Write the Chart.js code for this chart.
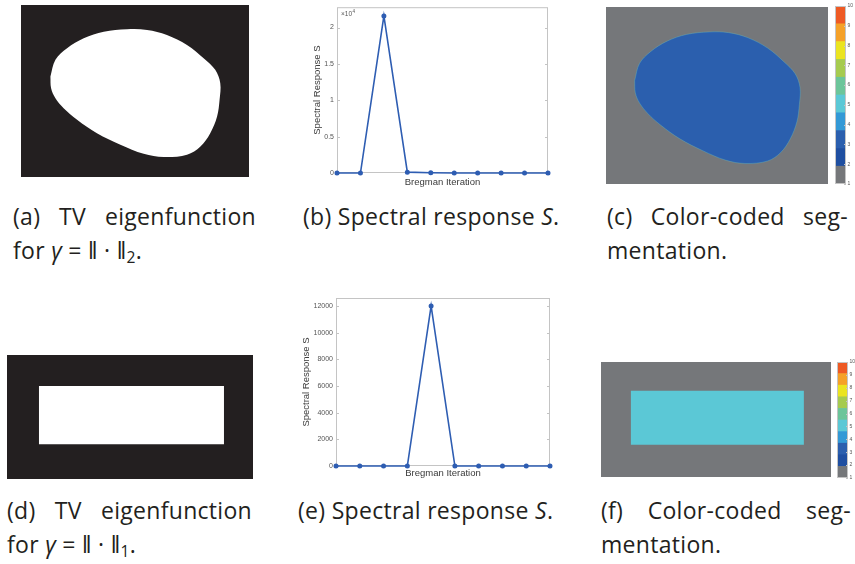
<!DOCTYPE html>
<html>
<head>
<meta charset="utf-8">
<script src="https://cdn.jsdelivr.net/npm/chart.js@4.4.0/dist/chart.umd.min.js"></script>
<style>
  html, body { margin: 0; padding: 0; background: #fff; }
  #fig { position: relative; width: 855px; height: 564px; overflow: hidden; }
  #fig canvas { position: absolute; display: block; }
  .cap { position: absolute; font-family: "Open Sans", sans-serif; font-size: 23px; letter-spacing: 0.3px; line-height: 34px; color: #231f20; white-space: nowrap; }
  .cap .j { text-align: justify; text-align-last: justify; }
  .cap sub { font-size: 0.68em; line-height: 0; vertical-align: -0.25em; }
</style>
</head>
<body>
<div id="fig">
  <canvas id="imgA" width="228" height="172" style="left:21px;top:5px"></canvas>
  <canvas id="specB" width="260" height="195" style="left:300px;top:0px"></canvas>
  <canvas id="segC" width="222" height="177" style="left:606px;top:7px"></canvas>
  <canvas id="barC" width="22" height="190" style="left:833px;top:0px"></canvas>

  <canvas id="imgD" width="246" height="124" style="left:7px;top:355px"></canvas>
  <canvas id="specE" width="260" height="195" style="left:295px;top:290px"></canvas>
  <canvas id="segF" width="230" height="115" style="left:601px;top:362px"></canvas>
  <canvas id="barF" width="20" height="128" style="left:835px;top:356px"></canvas>

  <div class="cap" style="left:13px;top:199px;width:243px">
    <div class="j">(a) TV eigenfunction</div>
    <div>for <i>γ</i> = ‖ · ‖<sub>2</sub>.</div>
  </div>
  <div class="cap" style="left:303px;top:199px">(b) Spectral response <i>S</i>.</div>
  <div class="cap" style="left:607px;top:199px;width:241px">
    <div class="j">(c) Color-coded seg-</div>
    <div>mentation.</div>
  </div>

  <div class="cap" style="left:7px;top:493px;width:245px">
    <div class="j">(d) TV eigenfunction</div>
    <div>for <i>γ</i> = ‖ · ‖<sub>1</sub>.</div>
  </div>
  <div class="cap" style="left:298px;top:493px">(e) Spectral response <i>S</i>.</div>
  <div class="cap" style="left:601px;top:493px;width:250px">
    <div class="j">(f) Color-coded seg-</div>
    <div>mentation.</div>
  </div>
</div>

<script>
// --- data ---------------------------------------------------------------
var iterations = ['1', '2', '3', '4', '5', '6', '7', '8', '9', '10'];

// spectral response for the smooth (l2) eigenfunction, scaled by 10^4 on the axis
var responseB = [0, 0, 21600, 120, 30, 0, 0, 0, 0, 0];
var ticksB = [0, 5000, 10000, 15000, 20000];
var tickLabelsB = ['0', '0.5', '1', '1.5', '2'];

// spectral response for the rectangle (l1) eigenfunction
var responseE = [0, 0, 0, 0, 12000, 0, 0, 0, 0, 0];
var ticksE = [0, 2000, 4000, 6000, 8000, 10000, 12000];
var tickLabelsE = ['0', '2000', '4000', '6000', '8000', '10000', '12000'];

// outlines in percent of the image frame (x right, y down)
var blobOutline = [
  [12.9, 41.6], [15.1, 31.9], [20.2, 25.1], [27.5, 19.3], [36.3, 15.5],
  [46.5, 14.1], [55.3, 14.5], [64.0, 17.4], [72.8, 23.2], [80.1, 30.9],
  [85.2, 37.7], [87.4, 45.5], [87.1, 55.1], [86.0, 64.8], [83.0, 74.5],
  [78.7, 82.2], [72.8, 87.0], [62.6, 88.4], [53.8, 86.5], [43.6, 81.2],
  [33.3, 74.5], [24.6, 66.7], [18.7, 60.0], [15.1, 54.2], [13.2, 48.4],
  [12.9, 41.6]
];
var rectOutline = [[13, 25], [88.2, 25], [88.2, 72], [13, 72], [13, 25]];

// colour bar: 10 classes spread over [1, 10]
var classEdges = [1, 1.9, 2.8, 3.7, 4.6, 5.5, 6.4, 7.3, 8.2, 9.1, 10];
var classColors = ['#75777a', '#1f4fa1', '#2b5fae', '#3399d6', '#5bc8d6',
                   '#6cc59a', '#a6cb4f', '#ebe420', '#f5a128', '#ee5a24'];
var classTicks = [1, 2, 3, 4, 5, 6, 7, 8, 9, 10];

// --- styling ------------------------------------------------------------
var LINE = '#2e5db2';
var AXIS = '#c4c4c4';
var TICK_TXT = '#555555';
var LABEL_TXT = '#3a3a3a';
var SANS = '"Liberation Sans", Arial, sans-serif';

// box around the plot area with short inward tick marks
var axesBox = {
  id: 'axesBox',
  beforeDatasetsDraw: function (chart, args, opts) {
    if (!opts.front) drawBox(chart, opts);
  },
  afterDatasetsDraw: function (chart, args, opts) {
    if (opts.front) drawBox(chart, opts);
  }
};

function drawBox(chart, opts) {
  var ctx = chart.ctx, a = chart.chartArea, y = chart.scales.y;
  ctx.save();
  ctx.strokeStyle = opts.color;
  ctx.lineWidth = 1;
  ctx.strokeRect(a.left + 0.5, a.top + 0.5, a.right - a.left - 1, a.bottom - a.top - 1);
  ctx.beginPath();
  y.ticks.forEach(function (t) {
    var py = Math.round(y.getPixelForValue(t.value)) + 0.5;
    if (opts.left) { ctx.moveTo(a.left, py); ctx.lineTo(a.left + opts.tick, py); }
    if (opts.right) { ctx.moveTo(a.right, py); ctx.lineTo(a.right - opts.tick, py); }
  });
  ctx.stroke();
  ctx.restore();
}

// "x10^4" multiplier in the top left corner
var exponent = {
  id: 'exponent',
  afterDraw: function (chart, args, opts) {
    var ctx = chart.ctx, a = chart.chartArea;
    ctx.save();
    ctx.fillStyle = TICK_TXT;
    ctx.textBaseline = 'alphabetic';
    ctx.font = '6.5px ' + SANS;
    ctx.fillText(opts.text, a.left + 4, a.top + 9);
    var w = ctx.measureText(opts.text).width;
    ctx.font = '4.5px ' + SANS;
    ctx.fillText(opts.sup, a.left + 4 + w + 0.5, a.top + 5.5);
    ctx.restore();
  }
};

// flat background colour of an image panel
var panelFill = {
  id: 'panelFill',
  beforeDraw: function (chart, args, opts) {
    var ctx = chart.ctx;
    ctx.save();
    ctx.fillStyle = opts.color;
    ctx.fillRect(0, 0, chart.width, chart.height);
    ctx.restore();
  }
};

function spectralChart(id, values, ticks, tickLabels, yMax, lay) {
  return new Chart(document.getElementById(id), {
    type: 'line',
    data: {
      labels: iterations,
      datasets: [{
        data: values,
        borderColor: LINE,
        backgroundColor: LINE,
        borderWidth: 1.6,
        pointRadius: 1.7,
        pointHoverRadius: 0,
        tension: 0,
        clip: 4
      }]
    },
    options: {
      responsive: false,
      animation: false,
      devicePixelRatio: 1,
      layout: { padding: lay.padding },
      plugins: {
        legend: { display: false },
        tooltip: { enabled: false },
        axesBox: { color: AXIS, tick: 3, left: true, right: true },
        exponent: lay.exponent || false
      },
      scales: {
        x: {
          grid: { display: false, drawTicks: false },
          border: { display: false },
          ticks: { display: false },
          title: {
            display: true, text: 'Bregman Iteration', color: LABEL_TXT,
            font: { family: SANS, size: 9.5 },
            padding: { top: 0, bottom: lay.xTitlePad }
          },
          afterFit: function (s) { s.height = lay.xHeight; }
        },
        y: {
          min: 0,
          max: yMax,
          grid: { display: false, drawTicks: false },
          border: { display: false },
          afterBuildTicks: function (s) {
            s.ticks = ticks.map(function (v) { return { value: v }; });
          },
          ticks: {
            color: TICK_TXT,
            font: { family: SANS, size: 7 },
            padding: 3,
            callback: function (v, i) { return tickLabels[i]; }
          },
          title: {
            display: true, text: 'Spectral Response S', color: LABEL_TXT,
            font: { family: SANS, size: 9.5 },
            padding: { top: lay.yTitlePad, bottom: 0 }
          },
          afterFit: function (s) { s.width = lay.yWidth; }
        }
      }
    },
    plugins: [axesBox, exponent]
  });
}

function imageChart(id, bg, fg, outline, tension, edge) {
  return new Chart(document.getElementById(id), {
    type: 'scatter',
    data: {
      datasets: [{
        data: outline.map(function (p) { return { x: p[0], y: p[1] }; }),
        showLine: true,
        fill: 'shape',
        backgroundColor: fg,
        borderColor: edge || fg,
        borderWidth: edge ? 0.6 : 0,
        pointRadius: 0,
        tension: tension
      }]
    },
    options: {
      responsive: false,
      animation: false,
      devicePixelRatio: 1,
      layout: { padding: 0 },
      plugins: {
        legend: { display: false },
        tooltip: { enabled: false },
        panelFill: { color: bg }
      },
      scales: {
        x: { type: 'linear', display: false, min: 0, max: 100 },
        y: { type: 'linear', display: false, min: 0, max: 100, reverse: true }
      }
    },
    plugins: [panelFill]
  });
}

function colorBar(id, pad, axisWidth) {
  return new Chart(document.getElementById(id), {
    type: 'bar',
    data: {
      labels: [''],
      datasets: classColors.map(function (c, i) {
        return {
          data: [[classEdges[i], classEdges[i + 1]]],
          backgroundColor: c,
          borderWidth: 0,
          grouped: false,
          barPercentage: 1,
          categoryPercentage: 1
        };
      })
    },
    options: {
      responsive: false,
      animation: false,
      devicePixelRatio: 1,
      layout: { padding: pad },
      plugins: {
        legend: { display: false },
        tooltip: { enabled: false },
        axesBox: { color: AXIS, tick: 2, left: false, right: true, front: true }
      },
      scales: {
        x: { display: false },
        y: {
          position: 'right',
          min: 1,
          max: 10,
          grid: { display: false, drawTicks: false },
          border: { display: false },
          afterBuildTicks: function (s) {
            s.ticks = classTicks.map(function (v) { return { value: v }; });
          },
          ticks: { color: TICK_TXT, font: { family: SANS, size: 5 }, padding: 1.5 },
          afterFit: function (s) { s.width = axisWidth; }
        }
      }
    },
    plugins: [axesBox]
  });
}

// --- panels -------------------------------------------------------------
imageChart('imgA', '#231f20', '#ffffff', blobOutline, 0.35);
spectralChart('specB', responseB, ticksB, tickLabelsB, 22800, {
  padding: { top: 5, right: 12, left: 0, bottom: 0 },
  yWidth: 37, xHeight: 22, yTitlePad: 12, xTitlePad: 7,
  exponent: { text: '\u00d710', sup: '4' }
});
imageChart('segC', '#75777a', '#2b5fae', blobOutline, 0.35, 'rgba(95,196,208,0.55)');
colorBar('barC', { left: 2, top: 6, bottom: 6, right: 0 }, 9);

imageChart('imgD', '#231f20', '#ffffff', rectOutline, 0);
spectralChart('specE', responseE, ticksE, tickLabelsE, 12600, {
  padding: { top: 8, right: 5, left: 0, bottom: 0 },
  yWidth: 41, xHeight: 19, yTitlePad: 6, xTitlePad: 6
});
imageChart('segF', '#75777a', '#5bc8d6', rectOutline, 0);
colorBar('barF', { left: 2, top: 6, bottom: 6, right: 0 }, 7);
</script>
</body>
</html>
